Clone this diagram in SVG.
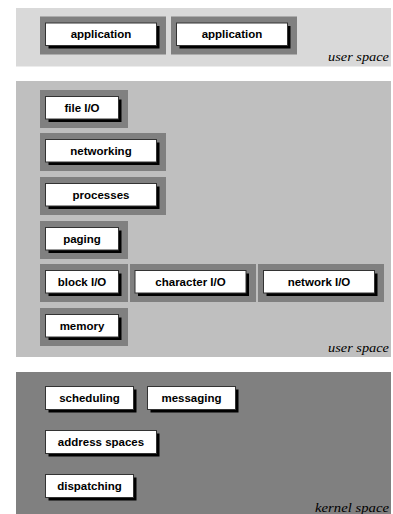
<svg xmlns="http://www.w3.org/2000/svg" width="393" height="514" viewBox="0 0 393 514">
<style>
.bg{fill:#ffffff}
.p1{fill:#d9d9d9}
.p2{fill:#bfbfbf}
.p3{fill:#808080}
.frame{fill:#808080}
.sh{fill:#000000}
.box{fill:#ffffff;stroke:#333333;stroke-width:1}
.t{font-family:"Liberation Sans",Arial,Helvetica,sans-serif;font-weight:bold;font-size:11.5px;fill:#000000;text-anchor:middle}
.sp{font-family:"Liberation Serif","Times New Roman",serif;font-style:italic;font-size:13.5px;fill:#000000;text-anchor:end}
</style>
<rect class="bg" x="0" y="0" width="393" height="514"/>
<g id="panels">
<rect class="p1" x="16" y="8" width="375" height="58.5"/>
<rect class="p2" x="16" y="81" width="375" height="276"/>
<rect class="p3" x="16" y="372" width="375" height="142"/>
<text class="sp" x="389" y="61" textLength="61" lengthAdjust="spacingAndGlyphs">user space</text>
<text class="sp" x="389" y="351.5" textLength="61" lengthAdjust="spacingAndGlyphs">user space</text>
<text class="sp" x="389" y="511.5" textLength="74" lengthAdjust="spacingAndGlyphs">kernel space</text>
</g>
<g id="connectors"/>
<g id="app1">
<rect class="frame" x="40" y="16.5" width="126" height="38"/>
<rect class="sh" x="48.5" y="26" width="111" height="22.5"/>
<rect class="box" x="45.5" y="23" width="111" height="22.5"/>
<text class="t" x="101" y="38">application</text>
</g>
<g id="app2">
<rect class="frame" x="171" y="16.5" width="126" height="38"/>
<rect class="sh" x="179.5" y="26" width="111" height="22.5"/>
<rect class="box" x="176.5" y="23" width="111" height="22.5"/>
<text class="t" x="232" y="38">application</text>
</g>
<g id="fileio">
<rect class="frame" x="40" y="90" width="88" height="38"/>
<rect class="sh" x="48.5" y="99.5" width="73" height="22.5"/>
<rect class="box" x="45.5" y="96.5" width="73" height="22.5"/>
<text class="t" x="82" y="111.5">file I/O</text>
</g>
<g id="networking">
<rect class="frame" x="40" y="133" width="126" height="38"/>
<rect class="sh" x="48.5" y="142.5" width="111" height="22.5"/>
<rect class="box" x="45.5" y="139.5" width="111" height="22.5"/>
<text class="t" x="101" y="154.5">networking</text>
</g>
<g id="processes">
<rect class="frame" x="40" y="177" width="126" height="38"/>
<rect class="sh" x="48.5" y="186.5" width="111" height="22.5"/>
<rect class="box" x="45.5" y="183.5" width="111" height="22.5"/>
<text class="t" x="101" y="198.5">processes</text>
</g>
<g id="paging">
<rect class="frame" x="40" y="221" width="88" height="38"/>
<rect class="sh" x="48.5" y="230.5" width="73" height="22.5"/>
<rect class="box" x="45.5" y="227.5" width="73" height="22.5"/>
<text class="t" x="82" y="242.5">paging</text>
</g>
<g id="blockio">
<rect class="frame" x="40" y="264" width="88" height="38"/>
<rect class="sh" x="48.5" y="273.5" width="73" height="22.5"/>
<rect class="box" x="45.5" y="270.5" width="73" height="22.5"/>
<text class="t" x="82" y="285.5">block I/O</text>
</g>
<g id="chario">
<rect class="frame" x="130" y="264" width="126" height="38"/>
<rect class="sh" x="138" y="273.5" width="111" height="22.5"/>
<rect class="box" x="135" y="270.5" width="111" height="22.5"/>
<text class="t" x="190.5" y="285.5">character I/O</text>
</g>
<g id="netio">
<rect class="frame" x="258" y="264" width="126" height="38"/>
<rect class="sh" x="266.5" y="273.5" width="111" height="22.5"/>
<rect class="box" x="263.5" y="270.5" width="111" height="22.5"/>
<text class="t" x="319" y="285.5">network I/O</text>
</g>
<g id="memory">
<rect class="frame" x="40" y="308" width="88" height="38"/>
<rect class="sh" x="48.5" y="317.5" width="73" height="22.5"/>
<rect class="box" x="45.5" y="314.5" width="73" height="22.5"/>
<text class="t" x="82" y="329.5">memory</text>
</g>
<g id="scheduling">
<rect class="sh" x="48.5" y="389.5" width="88" height="23"/>
<rect class="box" x="45.5" y="386.5" width="88" height="23"/>
<text class="t" x="89.5" y="402">scheduling</text>
</g>
<g id="messaging">
<rect class="sh" x="150.5" y="389.5" width="88" height="23"/>
<rect class="box" x="147.5" y="386.5" width="88" height="23"/>
<text class="t" x="191.5" y="402">messaging</text>
</g>
<g id="addressspaces">
<rect class="sh" x="48.5" y="433.5" width="111" height="23"/>
<rect class="box" x="45.5" y="430.5" width="111" height="23"/>
<text class="t" x="101" y="446">address spaces</text>
</g>
<g id="dispatching">
<rect class="sh" x="48.5" y="477.5" width="88" height="23"/>
<rect class="box" x="45.5" y="474.5" width="88" height="23"/>
<text class="t" x="89.5" y="490">dispatching</text>
</g>
</svg>
